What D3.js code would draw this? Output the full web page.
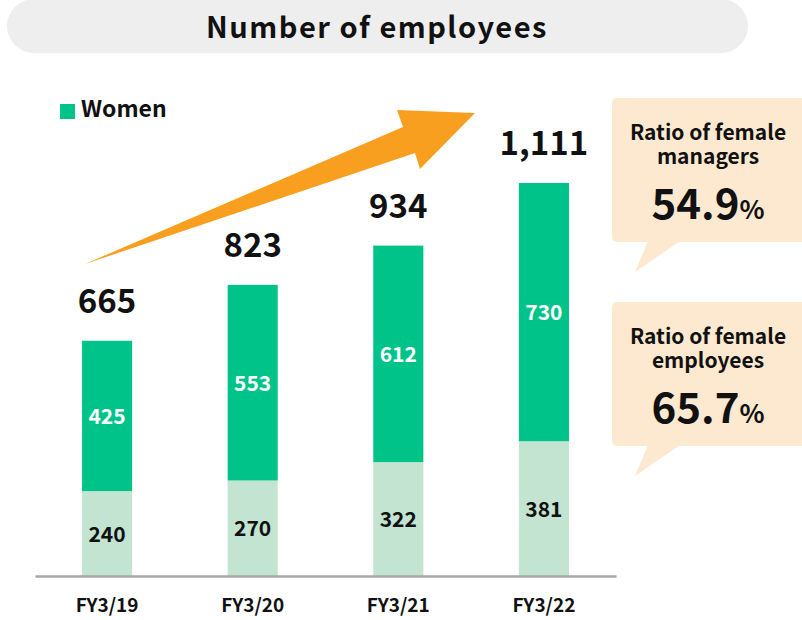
<!DOCTYPE html>
<html>
<head>
<meta charset="utf-8">
<script src="https://cdn.jsdelivr.net/npm/d3@7"></script>
<style>
  body { margin: 0; background: #fff; }
  text { font-family: "Noto Sans CJK JP", "Noto Sans", sans-serif; font-weight: bold; }
</style>
</head>
<body>
<svg id="chart"></svg>
<script>
var width = 802, height = 620;

// data
var years = ["FY3/19", "FY3/20", "FY3/21", "FY3/22"];
var men = [240, 270, 322, 381];
var women = [425, 553, 612, 730];
var totals = ["665", "823", "934", "1,111"];
var callouts = [
  {lines: ["Ratio of female", "managers"], value: "54.9"},
  {lines: ["Ratio of female", "employees"], value: "65.7"}
];

var darkGreen = "#00c389", lightGreen = "#c2e4d1", orange = "#f99f1f", boxFill = "#fde9d0";

var svg = d3.select("#chart")
    .attr("width", width)
    .attr("height", height);

// title pill
svg.append("rect")
    .attr("x", 7).attr("y", -1)
    .attr("width", 741).attr("height", 54)
    .attr("rx", 27)
    .attr("fill", "#eeeeee");
svg.append("text")
    .attr("x", 377).attr("y", 38)
    .attr("text-anchor", "middle")
    .attr("font-size", 29)
    .attr("letter-spacing", 1.5)
    .attr("fill", "#111")
    .text("Number of employees");

// scales
var x = d3.scaleBand()
    .domain(years)
    .range([35, 616])
    .paddingInner(0.656)
    .paddingOuter(0.323);

var maxTotal = d3.max(men.map(function(m, i) { return m + women[i]; }));
var y = d3.scaleLinear()
    .domain([0, maxTotal])
    .range([576, 183]);

// arrow (decoration)
svg.append("path")
    .attr("d", "M85,264 L403,127 L397,110 L475,113 L420,169 L415,153 Z")
    .attr("fill", orange);

// bars
var rows = years.map(function(d, i) { return {year: d, men: men[i], women: women[i], total: totals[i]}; });

var bars = svg.append("g").selectAll("g")
    .data(rows)
    .enter().append("g");

bars.append("rect")
    .attr("x", function(d) { return x(d.year); })
    .attr("width", x.bandwidth())
    .attr("y", function(d) { return y(d.men); })
    .attr("height", function(d) { return y(0) - y(d.men); })
    .attr("fill", lightGreen);

bars.append("rect")
    .attr("x", function(d) { return x(d.year); })
    .attr("width", x.bandwidth())
    .attr("y", function(d) { return y(d.men + d.women); })
    .attr("height", function(d) { return y(d.men) - y(d.men + d.women); })
    .attr("fill", darkGreen);

bars.append("text")
    .attr("x", function(d) { return x(d.year) + x.bandwidth() / 2; })
    .attr("y", function(d) { return (y(0) + y(d.men)) / 2 + 8; })
    .attr("text-anchor", "middle")
    .attr("font-size", 21)
    .attr("fill", "#111")
    .text(function(d) { return d.men; });

bars.append("text")
    .attr("x", function(d) { return x(d.year) + x.bandwidth() / 2; })
    .attr("y", function(d) { return (y(d.men) + y(d.men + d.women)) / 2 + 8; })
    .attr("text-anchor", "middle")
    .attr("font-size", 21)
    .attr("fill", "#fff")
    .text(function(d) { return d.women; });

bars.append("text")
    .attr("x", function(d) { return x(d.year) + x.bandwidth() / 2; })
    .attr("y", function(d) { return y(d.men + d.women) - 28; })
    .attr("text-anchor", "middle")
    .attr("font-size", 33)
    .attr("fill", "#111")
    .text(function(d) { return d.total; });

// axis
var axis = svg.append("g")
    .attr("transform", "translate(0," + y(0) + ")")
    .call(d3.axisBottom(x).tickSize(0).tickSizeOuter(0).tickPadding(23));
axis.select(".domain")
    .attr("stroke", "#a6a6a6")
    .attr("stroke-width", 2.5);
axis.selectAll("text")
    .attr("font-size", 19)
    .attr("fill", "#111")
    .style("font-family", "'Noto Sans CJK JP', sans-serif")
    .style("font-weight", "bold");

// legend
svg.append("rect")
    .attr("x", 60).attr("y", 104)
    .attr("width", 15).attr("height", 15)
    .attr("fill", darkGreen);
svg.append("text")
    .attr("x", 81).attr("y", 117)
    .attr("font-size", 23)
    .attr("fill", "#111")
    .text("Women");

// callouts
var boxes = svg.append("g").selectAll("g")
    .data(callouts)
    .enter().append("g")
    .attr("transform", function(d, i) { return "translate(612," + (98 + i * 204) + ")"; });

boxes.append("path")
    .attr("d", "M36,143 L23,174 L68,143 Z")
    .attr("fill", boxFill);
boxes.append("rect")
    .attr("width", 200).attr("height", 144)
    .attr("rx", 5)
    .attr("fill", boxFill);

boxes.each(function(d) {
  var g = d3.select(this);
  g.append("text")
      .attr("x", 96).attr("y", 42)
      .attr("text-anchor", "middle")
      .attr("font-size", 21)
      .attr("fill", "#111")
      .text(d.lines[0]);
  g.append("text")
      .attr("x", 96).attr("y", 66)
      .attr("text-anchor", "middle")
      .attr("font-size", 21)
      .attr("fill", "#111")
      .text(d.lines[1]);
  var t = g.append("text")
      .attr("x", 96).attr("y", 121)
      .attr("text-anchor", "middle")
      .attr("fill", "#111");
  t.append("tspan").attr("font-size", 42).text(d.value);
  t.append("tspan").attr("font-size", 26).text("%");
});
</script>
</body>
</html>
